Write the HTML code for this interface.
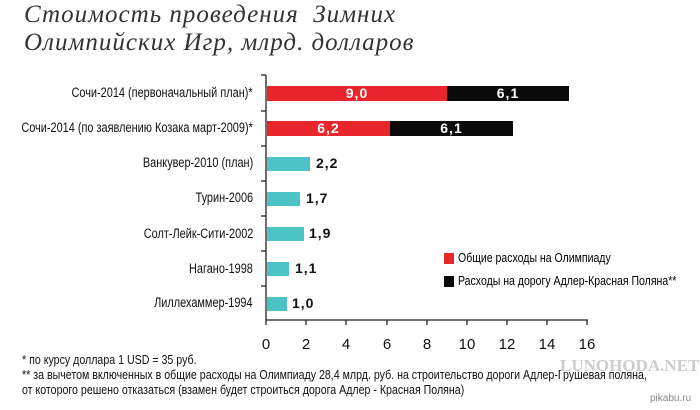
<!DOCTYPE html>
<html><head><meta charset="utf-8"><style>
body{margin:0;width:700px;height:410px;background:#fff;overflow:hidden;position:relative;font-family:"Liberation Sans","DejaVu Sans",sans-serif;}
.t{position:absolute;white-space:nowrap}
.title{font-family:"Liberation Serif",serif;font-style:italic;font-size:25px;color:#333;left:24px;letter-spacing:1px}
.lab{font-size:13.5px;color:#111;text-align:right;right:447px;transform:scaleX(0.81);transform-origin:right center}
.bar{position:absolute;height:15px}
.val{font-size:14px;font-weight:bold;color:#fff;text-align:center;letter-spacing:1px}
.num{font-size:14px;font-weight:bold;color:#111;letter-spacing:1px}
.tk{font-size:15px;color:#111;width:30px;text-align:center;top:336px}
.fn{font-size:12.5px;color:#111;left:22px;transform:scaleX(0.85);transform-origin:left center}
.lg{font-size:13px;left:458px;transform:scaleX(0.81);transform-origin:left center}
</style></head><body>
<div class="t title" style="top:1px">Стоимость проведения&nbsp; Зимних</div>
<div class="t title" style="top:29px">Олимпийских Игр, млрд. долларов</div>

<svg style="position:absolute;left:0;top:0" width="700" height="410">
<g stroke="#222" stroke-width="1.3">
<line x1="266" y1="75" x2="266" y2="320"/>
<line x1="266" y1="320" x2="588" y2="320"/>
<line x1="261" y1="75" x2="266" y2="75"/>
<line x1="261" y1="111" x2="266" y2="111"/>
<line x1="261" y1="146" x2="266" y2="146"/>
<line x1="261" y1="181" x2="266" y2="181"/>
<line x1="261" y1="216" x2="266" y2="216"/>
<line x1="261" y1="251" x2="266" y2="251"/>
<line x1="261" y1="286" x2="266" y2="286"/>
<line x1="266" y1="320" x2="266" y2="325"/><line x1="306" y1="320" x2="306" y2="325"/>
<line x1="346" y1="320" x2="346" y2="325"/><line x1="387" y1="320" x2="387" y2="325"/>
<line x1="427" y1="320" x2="427" y2="325"/><line x1="467" y1="320" x2="467" y2="325"/>
<line x1="507" y1="320" x2="507" y2="325"/><line x1="547" y1="320" x2="547" y2="325"/>
<line x1="587" y1="320" x2="587" y2="325"/>
</g></svg>

<div class="t lab" style="top:85px">Сочи-2014 (первоначальный план)*</div>
<div class="t lab" style="top:120px">Сочи-2014 (по заявлению Козака март-2009)*</div>
<div class="t lab" style="top:155px">Ванкувер-2010 (план)</div>
<div class="t lab" style="top:190px">Турин-2006</div>
<div class="t lab" style="top:226px">Солт-Лейк-Сити-2002</div>
<div class="t lab" style="top:261px">Нагано-1998</div>
<div class="t lab" style="top:295px">Лиллехаммер-1994</div>

<div class="bar" style="left:267px;top:86px;width:180px;background:#e8262b"></div>
<div class="bar" style="left:447px;top:86px;width:122px;background:#0a0a0a"></div>
<div class="t val" style="left:267px;top:85px;width:180px">9,0</div>
<div class="t val" style="left:447px;top:85px;width:122px">6,1</div>
<div class="bar" style="left:267px;top:121px;width:123px;background:#e8262b"></div>
<div class="bar" style="left:390px;top:121px;width:123px;background:#0a0a0a"></div>
<div class="t val" style="left:267px;top:120px;width:123px">6,2</div>
<div class="t val" style="left:390px;top:120px;width:123px">6,1</div>

<div class="bar" style="left:267px;top:157px;width:43px;height:14px;background:#4cc3c4"></div>
<div class="t num" style="left:316px;top:155px">2,2</div>
<div class="bar" style="left:267px;top:192px;width:33px;height:14px;background:#4cc3c4"></div>
<div class="t num" style="left:306px;top:190px">1,7</div>
<div class="bar" style="left:267px;top:227px;width:37px;height:14px;background:#4cc3c4"></div>
<div class="t num" style="left:309px;top:225px">1,9</div>
<div class="bar" style="left:267px;top:262px;width:22px;height:14px;background:#4cc3c4"></div>
<div class="t num" style="left:295px;top:260px">1,1</div>
<div class="bar" style="left:267px;top:297px;width:20px;height:14px;background:#4cc3c4"></div>
<div class="t num" style="left:292px;top:295px">1,0</div>

<div class="bar" style="left:444px;top:253px;width:10px;height:11px;background:#e8262b"></div>
<div class="t lg" style="top:250px">Общие расходы на Олимпиаду</div>
<div class="bar" style="left:444px;top:276px;width:10px;height:11px;background:#0a0a0a"></div>
<div class="t lg" style="top:273px">Расходы на дорогу Адлер-Красная Поляна**</div>

<div class="t tk" style="left:251px">0</div><div class="t tk" style="left:291px">2</div>
<div class="t tk" style="left:331px">4</div><div class="t tk" style="left:372px">6</div>
<div class="t tk" style="left:412px">8</div><div class="t tk" style="left:452px">10</div>
<div class="t tk" style="left:492px">12</div><div class="t tk" style="left:532px">14</div>
<div class="t tk" style="left:572px">16</div>

<div class="t fn" style="top:353px">* по курсу доллара 1 USD = 35 руб.</div>
<div class="t fn" style="top:368px">** за вычетом включенных в общие расходы на Олимпиаду 28,4 млрд. руб. на строительство дороги Адлер-Грушевая поляна,</div>
<div class="t fn" style="top:383px">от которого решено отказаться (взамен будет строиться дорога Адлер - Красная Поляна)</div>
<div class="t" style="left:560px;top:356px;font-family:'Liberation Serif',serif;font-weight:bold;font-size:17px;color:#ccc">LUNOHODA.NET</div>
<div class="t" style="left:650px;top:393px;font-size:10px;color:#888">pikabu.ru</div>
</body></html>
